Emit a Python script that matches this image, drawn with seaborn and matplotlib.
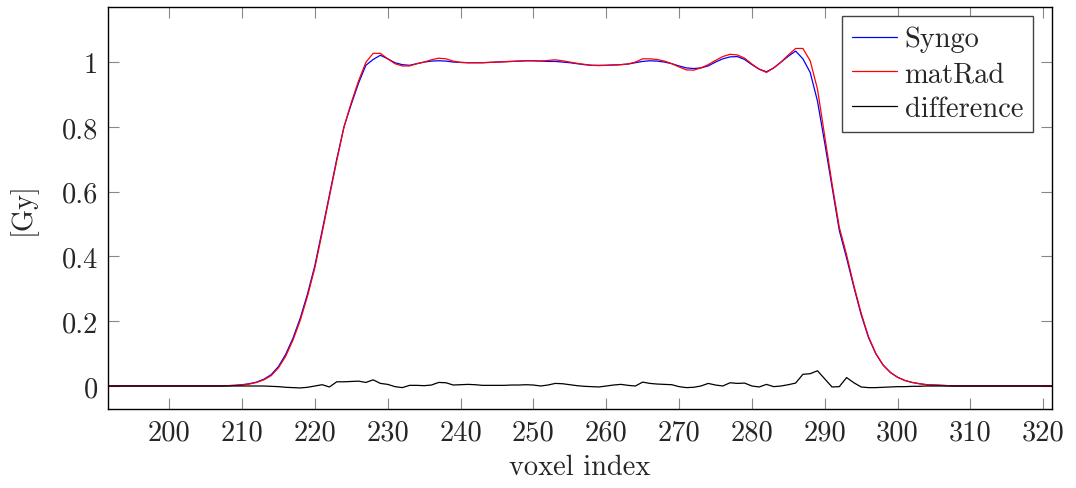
import numpy as np
import pandas as pd
import matplotlib
matplotlib.use("Agg")
import matplotlib.pyplot as plt
import seaborn as sns

# ---- data ----
voxel = list(range(191, 323))

syngo_edge_left = [0.001, 0.002, 0.004, 0.007, 0.012, 0.021, 0.035, 0.06, 0.098, 0.148,
                   0.21, 0.285, 0.372, 0.48, 0.59, 0.70, 0.80, 0.87, 0.935, 0.99]  # 208..227
syngo_plateau = [1.008, 1.021, 1.01, 0.998, 0.992, 0.99, 0.995, 1.0, 1.003, 1.004,
                 1.003, 1.0, 0.999, 0.998, 0.998, 0.998, 0.999, 1.0, 1.001, 1.002,
                 1.003, 1.004, 1.004, 1.003, 1.002, 1.002, 1.0, 0.998, 0.995, 0.992,
                 0.99, 0.99, 0.99, 0.991, 0.992, 0.994, 0.998, 1.002, 1.004, 1.003,
                 1.0, 0.995, 0.988, 0.982, 0.98, 0.982, 0.988, 1.0, 1.01, 1.016,
                 1.017, 1.008, 0.992, 0.978, 0.97, 0.982, 1.0, 1.018, 1.034, 1.01]  # 228..287
syngo_edge_right = [0.968, 0.88, 0.75, 0.615, 0.48, 0.395, 0.305, 0.22, 0.15, 0.1,
                    0.065, 0.042, 0.027, 0.017, 0.011, 0.007, 0.004, 0.003, 0.002, 0.001]  # 288..307
syngo = [0.0] * 17 + syngo_edge_left + syngo_plateau + syngo_edge_right + [0.0] * 15

matrad_edge_left = [0.001, 0.002, 0.003, 0.006, 0.011, 0.019, 0.032, 0.056, 0.092, 0.142,
                    0.203, 0.278, 0.365, 0.473, 0.585, 0.695, 0.80, 0.875, 0.942, 0.999]  # 208..227
matrad_plateau = [1.027, 1.027, 1.01, 0.995, 0.988, 0.988, 0.995, 1.0, 1.007, 1.012,
                  1.01, 1.003, 0.999, 0.998, 0.998, 0.998, 0.999, 1.0, 1.001, 1.002,
                  1.003, 1.004, 1.004, 1.003, 1.005, 1.007, 1.004, 1.0, 0.996, 0.993,
                  0.99, 0.989, 0.99, 0.991, 0.992, 0.994, 1.0, 1.01, 1.01, 1.008,
                  1.003, 0.995, 0.985, 0.976, 0.975, 0.982, 0.992, 1.005, 1.017, 1.024,
                  1.022, 1.012, 0.994, 0.978, 0.968, 0.982, 1.0, 1.022, 1.042, 1.042]  # 228..287
matrad_edge_right = [1.004, 0.917, 0.77, 0.625, 0.49, 0.405, 0.31, 0.225, 0.153, 0.101,
                     0.065, 0.042, 0.027, 0.017, 0.011, 0.007, 0.004, 0.003, 0.002, 0.001]  # 288..307
matrad = [0.0] * 17 + matrad_edge_left + matrad_plateau + matrad_edge_right + [0.0] * 15

difference_mid = [-0.001, -0.002, -0.004, -0.005, -0.006, -0.004, 0.0, 0.004, -0.003,   # 214..222
                  0.013, 0.013, 0.014, 0.015, 0.011, 0.019, 0.008, 0.005, -0.002, -0.005,  # 223..232
                  0.002, 0.002, 0.001, 0.003, 0.011, 0.010, 0.003, 0.004, 0.005, 0.004,   # 233..242
                  0.002, 0.002, 0.002, 0.002, 0.003, 0.003, 0.004, 0.003, 0.0, 0.003,     # 243..252
                  0.008, 0.007, 0.004, 0.001, -0.001, -0.002, -0.003, 0.0, 0.003, 0.005,  # 253..262
                  0.002, 0.0, 0.012, 0.008, 0.006, 0.005, 0.004, -0.002, -0.005, -0.004,  # 263..272
                  0.0, 0.008, 0.003, 0.0, 0.01, 0.008, 0.009, 0.0, -0.003, 0.005,         # 273..282
                  -0.002, 0.0, 0.004, 0.009, 0.036, 0.038, 0.047, 0.022, -0.003, -0.002,  # 283..292
                  0.026, 0.01, -0.003, -0.005, -0.005, -0.004, -0.003, -0.002, -0.002,    # 293..301
                  -0.001, -0.001]                                                         # 302..303
difference = [0.0] * 23 + difference_mid + [0.0] * 19

series_names = ["Syngo", "matRad", "difference"]
x_ticks = [200, 210, 220, 230, 240, 250, 260, 270, 280, 290, 300, 310, 320]
y_ticks = [0, 0.2, 0.4, 0.6, 0.8, 1]
y_tick_labels = ["0", "0.2", "0.4", "0.6", "0.8", "1"]

# ---- style ----
sns.set_style("ticks")
plt.rcParams["font.family"] = ["cmr10", "DejaVu Serif"]
plt.rcParams["mathtext.fontset"] = "cm"
plt.rcParams["axes.formatter.use_mathtext"] = True
plt.rcParams["axes.unicode_minus"] = False

df = pd.DataFrame({
    "voxel": voxel * 3,
    "value": syngo + matrad + difference,
    "series": [series_names[0]] * len(voxel) + [series_names[1]] * len(voxel) + [series_names[2]] * len(voxel),
})

fig = plt.figure(figsize=(10.76, 4.89), dpi=100)
ax = fig.add_axes([108 / 1076, 1 - 410 / 489, (1052 - 108) / 1076, (410 - 8) / 489])

palette = {"Syngo": "#0000ff", "matRad": "#ff0000", "difference": "#000000"}
sns.lineplot(data=df, x="voxel", y="value", hue="series", hue_order=series_names,
             palette=palette, linewidth=0.9, ax=ax, legend=True)

ax.set_xlim(191.6, 321.2)
ax.set_ylim(-0.071, 1.17)
ax.set_xticks(x_ticks)
ax.set_xticklabels([str(t) for t in x_ticks])
ax.set_yticks(y_ticks)
ax.set_yticklabels(y_tick_labels)

fs = 20.5
ax.tick_params(axis="both", direction="in", length=8, width=0.8, color="#888888",
               labelsize=fs, top=True, right=True, pad=7)
for sp in ax.spines.values():
    sp.set_linewidth(1.0)
    sp.set_color("black")

ax.set_xlabel("voxel index", fontsize=fs, labelpad=6)
ax.set_ylabel("[Gy]", fontsize=fs, labelpad=18)

handles, labels = ax.get_legend_handles_labels()
leg = ax.legend(handles, labels, loc="upper right",
                bbox_to_anchor=(1 - 19 / 944, 1 - 9 / 402), borderaxespad=0,
                fontsize=fs, frameon=True, fancybox=False, framealpha=1,
                edgecolor="#444444", handlelength=1.6, handletextpad=0.25,
                labelspacing=0.3, borderpad=0.35)
leg.get_frame().set_linewidth(1.0)

fig.savefig("out.png", dpi=100)
